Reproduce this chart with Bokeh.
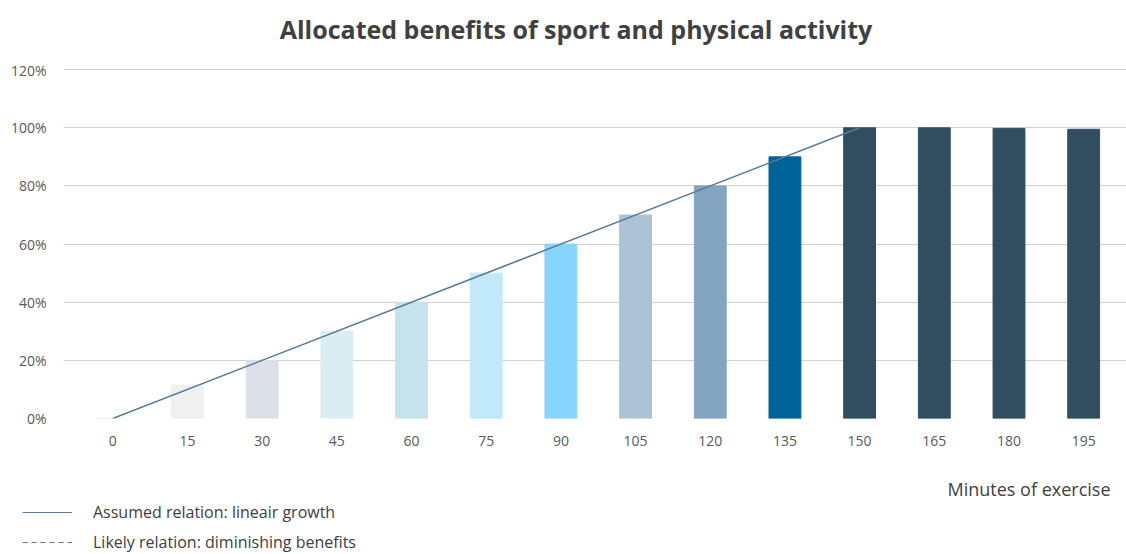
from bokeh.plotting import figure
from bokeh.layouts import column, row
from bokeh.models import (ColumnDataSource, Range1d, FixedTicker, Legend,
                          LegendItem, Label)
from bokeh.embed import file_html
from bokeh.resources import INLINE

minutes = [0, 15, 30, 45, 60, 75, 90, 105, 120, 135, 150, 165, 180, 195]
benefit = [0.0, 0.115, 0.20, 0.30, 0.40, 0.50, 0.60, 0.70, 0.80, 0.90, 1.00, 1.00, 0.998, 0.995]
bar_colors = ["#f0f0f0", "#f0f0f0", "#dce1e8", "#daedf3", "#c6e3eb", "#c2e8fb", "#89d4fd",
              "#adc3d5", "#83a5bf", "#006298", "#314d60", "#314d60", "#314d60", "#314d60"]
assumed_x = [0, 150]
assumed_y = [0.0, 1.0]
y_ticks = [0, 0.2, 0.4, 0.6, 0.8, 1.0, 1.2]
y_labels = ["0%", "20%", "40%", "60%", "80%", "100%", "120%"]
legend_labels = ["Assumed relation: lineair growth", "Likely relation: diminishing benefits"]
x_title = "Minutes of exercise"
chart_title = "Allocated benefits of sport and physical activity"

FONT = "Open Sans"
W = 1126
H_HEAD, H_MAIN, H_FOOT = 60, 400, 94
LINE_COLOR = "#587a96"
NAN = float("nan")


def blank(height):
    fig = figure(width=W, height=height, output_backend="svg", toolbar_location=None,
                 x_range=Range1d(0, W), y_range=Range1d(0, height),
                 x_axis_location=None, y_axis_location=None,
                 min_border_left=0, min_border_right=0, min_border_top=0,
                 min_border_bottom=0, outline_line_color=None)
    fig.xgrid.grid_line_color = None
    fig.ygrid.grid_line_color = None
    return fig


# header: title
h = blank(H_HEAD)
h.add_layout(Label(x=575.5, y=H_HEAD - 28, text=chart_title, text_align="center",
                   text_baseline="middle", text_font=FONT, text_font_size="25px",
                   text_font_style="bold", text_color="#404040"))

# main chart
p = figure(width=W, height=H_MAIN, output_backend="svg", toolbar_location=None,
           x_range=Range1d(-9.9, 203.6), y_range=Range1d(0, 1.204),
           min_border_left=63, min_border_right=0, min_border_top=8,
           min_border_bottom=42, outline_line_color=None)
p.title.text = ""
p.title.visible = False

src = ColumnDataSource(dict(x=minutes, top=benefit, color=bar_colors))
p.vbar(x="x", top="top", bottom=0, width=6.4, source=src, fill_color="color",
       line_color="color", line_width=1)
p.line(assumed_x, assumed_y, line_color=LINE_COLOR, line_width=1.5)

p.xaxis.ticker = FixedTicker(ticks=minutes)
p.xaxis.major_label_overrides = {m: str(m) for m in minutes}
p.yaxis.ticker = FixedTicker(ticks=y_ticks)
p.yaxis.major_label_overrides = {t: l for t, l in zip(y_ticks, y_labels)}
for ax in (p.xaxis, p.yaxis):
    ax.axis_line_color = None
    ax.major_tick_line_color = None
    ax.minor_tick_line_color = None
    ax.major_tick_out = 0
    ax.major_tick_in = 0
    ax.major_label_text_font = FONT
    ax.major_label_text_font_size = "14px"
    ax.major_label_text_color = "#595959"
p.xaxis.major_label_standoff = 17
p.yaxis.major_label_standoff = 17

p.xgrid.grid_line_color = None
p.ygrid.ticker = FixedTicker(ticks=y_ticks)
p.ygrid.grid_line_color = "#d0d0d0"
p.ygrid.grid_line_width = 1

# footer: axis title and legend
f = blank(H_FOOT)
f.add_layout(Label(x=1110, y=66, text=x_title, text_align="right", text_baseline="middle",
                   text_font=FONT, text_font_size="18px", text_color="#404040"))

r1 = f.line([NAN], [NAN], line_color=LINE_COLOR, line_width=1.2)
r2 = f.line([NAN], [NAN], line_color=LINE_COLOR, line_width=1.2, line_dash="5 4")
legend = Legend(items=[LegendItem(label=legend_labels[0], renderers=[r1]),
                       LegendItem(label=legend_labels[1], renderers=[r2])],
                location=(22, 1), orientation="vertical", border_line_color=None,
                background_fill_alpha=0, padding=0, margin=0, spacing=8,
                glyph_width=50, glyph_height=18, label_height=18, label_standoff=21,
                label_text_font=FONT, label_text_font_size="16px", label_text_color="#404040")
f.add_layout(legend, "center")

layout = column(row(h), p, row(f), spacing=0)
open("out.html", "w").write(file_html(layout, INLINE))
